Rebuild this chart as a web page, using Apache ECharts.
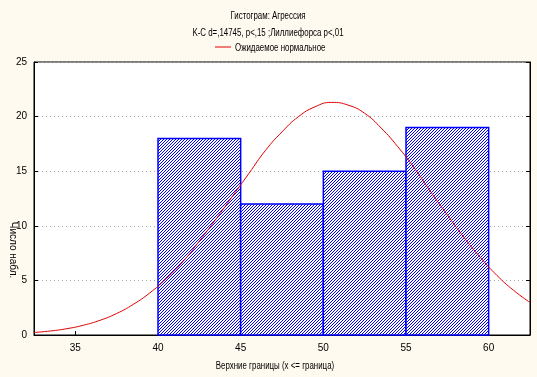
<!DOCTYPE html>
<html>
<head>
<meta charset="utf-8">
<script src="https://cdn.jsdelivr.net/npm/echarts@6/dist/echarts.min.js"></script>
<style>
  html, body { margin: 0; padding: 0; background: #fffaf0; }
  #chart { width: 537px; height: 377px; }
</style>
</head>
<body>
<div id="chart"></div>
<script>
// histogram bins (upper bounds) and counts
const binStart = [40, 45, 50, 55]
const binEnd = [45, 50, 55, 60]
const counts = [18, 12, 15, 19]

// expected normal curve
const curveX = [32.5, 33.5, 34.5, 35.5, 36.5, 37.5, 38.5, 39.5, 40.5, 41.5, 42.5, 43.5, 44.5, 45.5, 46.5,
  47.5, 48.5, 49.5, 50.5, 51.5, 52.5, 53.5, 54.5, 55.5, 56.5, 57.5, 58.5, 59.5, 60.5, 61.5, 62.5]
const curveY = [0.23, 0.37, 0.58, 0.9, 1.35, 1.97, 2.8, 3.85, 5.16, 6.7, 8.6, 10.6, 12.7, 14.8, 16.9,
  18.6, 20.0, 20.9, 21.3, 21.05, 20.3, 18.95, 17.25, 15.3, 13.1, 11.0, 8.95, 7.1, 5.46, 4.1, 2.98]

const xTicks = [35, 40, 45, 50, 55, 60]

const font = '"Liberation Sans"'
const narrow = 0.79 // the original text is a narrow bitmap font

// hatch "////" pattern
function makeHatch() {
  const c = document.createElement('canvas')
  c.width = 3
  c.height = 3
  const ctx = c.getContext('2d')
  ctx.fillStyle = '#fff'
  ctx.fillRect(0, 0, 3, 3)
  ctx.fillStyle = '#0000ff'
  for (let i = 0; i < 3; i++) {
    ctx.fillRect(2 - i, i, 1, 1)
  }
  return c
}
const hatch = makeHatch()

function label(text, x, y, align) {
  return {
    type: 'text', x: x, y: y, scaleX: narrow,
    style: { text: text, font: '10px ' + font, fill: '#000', align: align || 'center', verticalAlign: 'middle' }
  }
}

const chart = echarts.init(document.getElementById('chart'))
chart.setOption({
  backgroundColor: '#fffaf0',
  animation: false,
  textStyle: { fontFamily: font },
  grid: {
    left: 34, right: 7, top: 62, bottom: 42,
    show: true, backgroundColor: '#fff', borderColor: '#000', borderWidth: 1
  },
  graphic: [
    label('Гистограм: Агрессия', 268, 16),
    label('K-C d=,14745, p<,15 ;Лиллиефорса p<,01', 268, 33),
    { type: 'line', shape: { x1: 215, y1: 47, x2: 231, y2: 47 }, style: { stroke: '#e00000', lineWidth: 1 } },
    label('Ожидаемое нормальное', 235, 48, 'left'),
    { type: 'text', x: 13, y: 250, rotation: -Math.PI / 2, style: { text: 'Число набл.', font: '10px ' + font, fill: '#000', align: 'center', verticalAlign: 'middle' } },
    label('Верхние границы (x <= граница)', 275, 366)
  ],
  xAxis: {
    type: 'value',
    min: 32.5,
    max: 62.5,
    axisLine: { lineStyle: { color: '#000' } },
    axisTick: { inside: true, length: 4, customValues: xTicks, lineStyle: { color: '#000' } },
    axisLabel: { customValues: xTicks, color: '#000', fontSize: 10, margin: 8 },
    splitLine: { show: false }
  },
  yAxis: [{
    type: 'value',
    min: 0,
    max: 25,
    interval: 5,
    axisLine: { show: true, lineStyle: { color: '#000' } },
    axisTick: { show: true, inside: true, length: 4, lineStyle: { color: '#000' } },
    axisLabel: { color: '#000', fontSize: 10, margin: 7 },
    splitLine: { show: true, lineStyle: { color: '#aaa', type: [1, 3] } }
  }, {
    type: 'value',
    position: 'right',
    min: 0,
    max: 25,
    interval: 5,
    axisLine: { show: true, lineStyle: { color: '#000' } },
    axisTick: { show: true, inside: true, length: 4, lineStyle: { color: '#000' } },
    axisLabel: { show: false },
    splitLine: { show: false }
  }],
  series: [
    {
      type: 'custom',
      data: counts.map((v, i) => [binStart[i], binEnd[i], v]),
      encode: { x: [0, 1], y: 2 },
      renderItem(params, api) {
        const p0 = api.coord([api.value(0), 0])
        const p1 = api.coord([api.value(1), api.value(2)])
        return {
          type: 'rect',
          shape: { x: p0[0], y: p1[1], width: p1[0] - p0[0], height: p0[1] - p1[1] },
          style: { fill: { image: hatch, repeat: 'repeat' }, stroke: '#0000ff', lineWidth: 1.5 }
        }
      },
      z: 2
    },
    {
      type: 'line',
      data: curveX.map((x, i) => [x, curveY[i]]),
      smooth: true,
      showSymbol: false,
      lineStyle: { color: '#e00000', width: 1 },
      z: 3
    }
  ]
})
</script>
</body>
</html>
